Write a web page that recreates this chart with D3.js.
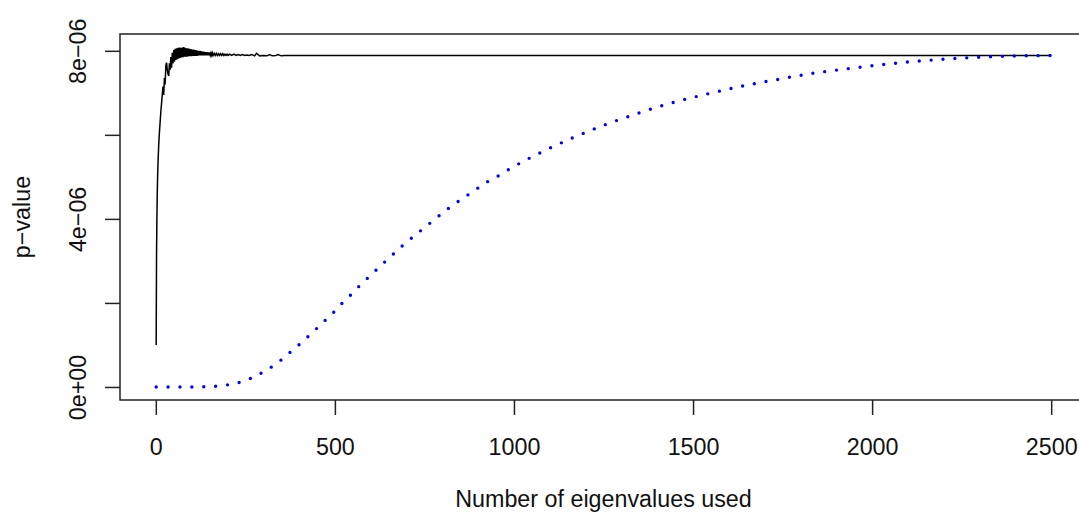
<!DOCTYPE html>
<html>
<head>
<meta charset="utf-8">
<script src="https://cdn.jsdelivr.net/npm/d3@7.9.0/dist/d3.min.js"></script>
<style>
  body { margin: 0; background: #fff; }
  svg { display: block; font-family: "Liberation Sans", Arial, Helvetica, sans-serif; }
</style>
</head>
<body>
<svg id="chart" width="1079" height="516"></svg>
<script>
// x ticks and y ticks
const xTicks = [0, 500, 1000, 1500, 2000, 2500];
const yTicks = [0, 2e-6, 4e-6, 6e-6, 8e-6];
const yTickLabels = ['0e+00', '', '4e\u221206', '', '8e\u221206'];

// black series: p-value for k eigenvalues (values read in units of 1e-6)
const blackK = [1, 2, 3, 4, 5, 6, 8, 10, 12, 14, 16, 18, 20, 22, 24, 26, 28, 30, 32, 34, 36, 38, 40, 42, 44, 46, 48, 50,
  52, 54, 56, 58, 60, 62, 64, 66, 68, 70, 72, 74, 76, 78, 80, 82, 84, 86, 88, 90, 92, 94, 96, 98, 100, 102, 104, 106,
  108, 110, 112, 114, 116, 118, 120, 122, 124, 126, 128, 130, 132, 134, 136, 138, 140, 142, 144, 146, 148, 150, 152, 154,
  156, 158, 160, 163, 166, 169, 172, 175, 178, 181, 184, 187, 190, 193, 196, 199, 202, 206, 212, 218, 224, 230, 236, 242,
  248, 254, 260, 268, 276, 281, 290, 300, 310, 318, 325, 335, 341, 350, 360, 500, 1000, 1500, 2000, 2500];
const blackP = [1.00, 3.10, 4.00, 4.60, 5.00, 5.30, 5.75, 6.05, 6.30, 6.55, 6.75, 6.95, 7.15, 6.95, 7.35, 7.20, 7.65, 7.72, 7.55, 7.45, 7.40, 7.70, 7.55, 7.85, 7.60, 7.95, 7.70, 8.02,
  7.74, 8.05, 7.78, 8.06, 7.80, 8.07, 7.82, 8.08, 7.83, 8.07, 7.84, 8.08, 7.85, 8.09, 7.86, 8.07, 7.86, 8.06, 7.86, 8.06, 7.87, 8.05, 7.87, 8.04, 7.87, 8.03, 7.88, 8.03,
  7.88, 8.02, 7.88, 8.01, 7.88, 8.00, 7.89, 8.00, 7.89, 7.99, 7.89, 7.98, 7.89, 7.98, 7.89, 7.97, 7.89, 7.97, 7.89, 7.96, 7.89, 7.96, 7.89, 7.95,
  7.89, 7.95, 7.89, 7.94, 7.89, 7.94, 7.89, 7.93, 7.89, 7.93, 7.89, 7.93, 7.89, 7.92, 7.89, 7.92, 7.89, 7.92, 7.89, 7.92, 7.89, 7.91, 7.89, 7.91,
  7.89, 7.90, 7.89, 7.91, 7.88, 7.94, 7.88, 7.89, 7.88, 7.91, 7.88, 7.89, 7.91, 7.88, 7.89, 7.888, 7.888, 7.888, 7.888, 7.888];

// blue dotted series (units of 1e-6)
const blueK = [1, 50, 100, 150, 200, 234, 265, 295, 323, 350, 375, 400, 425, 450, 474, 498, 520, 544, 568, 600, 650, 689,
  750, 818, 880, 929, 960, 987, 1075, 1166, 1259, 1353, 1448, 1545, 1642, 1741, 1839, 1938, 2037, 2136, 2237, 2336, 2420, 2500];
const blueP = [0, 0, 0, 0.01, 0.05, 0.11, 0.207, 0.333, 0.476, 0.643, 0.826, 1.007, 1.198, 1.40, 1.595, 1.79, 1.99, 2.19, 2.40, 2.66, 3.06, 3.364,
  3.79, 4.255, 4.62, 4.898, 5.04, 5.183, 5.579, 5.936, 6.255, 6.531, 6.779, 6.983, 7.167, 7.326, 7.47, 7.58, 7.68, 7.76, 7.82, 7.86, 7.88, 7.888];

const svg = d3.select('#chart');

const x = d3.scaleLinear().domain([-100, 2600]).range([120, 1087]);
const y = d3.scaleLinear().domain([-0.31e-6, 8.40e-6]).range([400, 34]);

// frame
svg.append('rect')
  .attr('x', x(-100)).attr('y', y(8.40e-6))
  .attr('width', x(2600) - x(-100)).attr('height', y(-0.31e-6) - y(8.40e-6))
  .attr('fill', 'none').attr('stroke', '#222').attr('stroke-width', 1.5);

// x axis
const xAxis = svg.append('g')
  .attr('transform', `translate(0,${y(-0.31e-6)})`)
  .call(d3.axisBottom(x).tickValues(xTicks).tickSize(15).tickPadding(23).tickFormat(d3.format('d')));
xAxis.select('.domain').remove();
xAxis.selectAll('line').attr('stroke', '#222').attr('stroke-width', 1.5);
xAxis.selectAll('text').attr('font-size', 23.3).attr('fill', '#111').attr('font-family', null);

// y axis
const yAxis = svg.append('g')
  .attr('transform', `translate(${x(-100)},0)`)
  .call(d3.axisLeft(y).tickValues(yTicks).tickSize(15).tickFormat((d, i) => yTickLabels[i]));
yAxis.select('.domain').remove();
yAxis.selectAll('line').attr('stroke', '#222').attr('stroke-width', 1.5);
yAxis.selectAll('text')
  .attr('font-size', 23.3).attr('fill', '#111').attr('font-family', null)
  .attr('x', null).attr('dy', null)
  .attr('text-anchor', 'middle')
  .attr('transform', 'translate(-34,0) rotate(-90)');

// axis titles
svg.append('text')
  .attr('x', (x(-100) + x(2600)) / 2).attr('y', 507)
  .attr('text-anchor', 'middle').attr('font-size', 23.3).attr('fill', '#111')
  .text('Number of eigenvalues used');

svg.append('text')
  .attr('transform', `translate(30,${(y(-0.31e-6) + y(8.40e-6)) / 2}) rotate(-90)`)
  .attr('text-anchor', 'middle').attr('font-size', 23.3).attr('fill', '#111')
  .text('p\u2212value');

// series
const blackData = blackK.map((k, i) => [k, blackP[i] * 1e-6]);
const blueData = blueK.map((k, i) => [k, blueP[i] * 1e-6]);

const line = d3.line().x(d => x(d[0])).y(d => y(d[1]));

svg.append('path')
  .datum(blackData)
  .attr('d', line)
  .attr('fill', 'none').attr('stroke', '#000').attr('stroke-width', 1.5)
  .attr('stroke-linejoin', 'miter');

svg.append('path')
  .datum(blueData)
  .attr('d', line.curve(d3.curveMonotoneX))
  .attr('fill', 'none').attr('stroke', '#0000ff').attr('stroke-width', 3.4)
  .attr('stroke-linecap', 'round')
  .attr('stroke-dasharray', '0 11.9');
</script>
</body>
</html>
